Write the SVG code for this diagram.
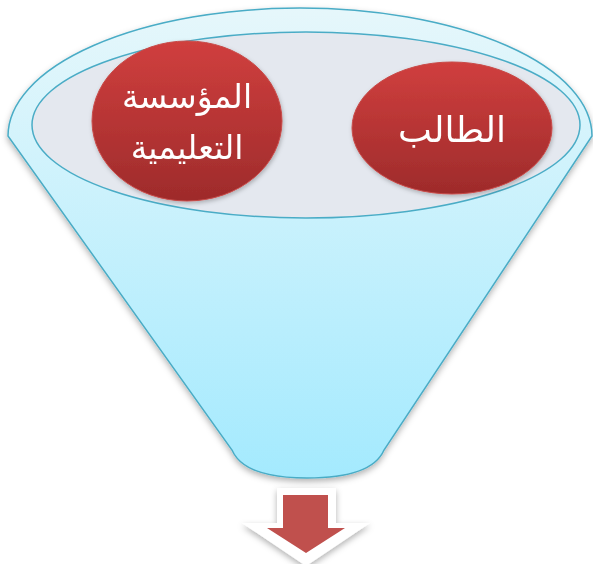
<svg xmlns="http://www.w3.org/2000/svg" width="593" height="564" viewBox="0 0 593 564">
<style>
.lbl{font-family:"DejaVu Sans","Noto Sans",sans-serif;fill:#ffffff;text-anchor:middle}
.ball{fill:url(#red);stroke:#c84a48;stroke-width:1}
</style>
<defs>
<linearGradient id="body" x1="0" y1="0" x2="0" y2="1">
<stop offset="0" stop-color="#e6f7fb"/>
<stop offset="1" stop-color="#a4eafe"/>
</linearGradient>
<linearGradient id="red" x1="0" y1="0" x2="0" y2="1">
<stop offset="0" stop-color="#d03f3e"/>
<stop offset="1" stop-color="#9e2b2b"/>
</linearGradient>
<filter id="sh" x="-20%" y="-20%" width="140%" height="140%">
<feDropShadow dx="0" dy="3" stdDeviation="3" flood-color="#000" flood-opacity="0.3"/>
</filter>
<filter id="sh2" x="-20%" y="-20%" width="140%" height="140%">
<feDropShadow dx="1" dy="2" stdDeviation="2" flood-color="#000" flood-opacity="0.25"/>
</filter>
</defs>
<g id="funnel">
<path d="M8,136 A292,128 0 0 1 592,136 L384,450 Q372,478 307,478 Q244,478 232,450 Z" fill="url(#body)" stroke="#4aacc6" stroke-width="1.5" filter="url(#sh)"/>
<ellipse cx="306" cy="125" rx="274" ry="93" fill="#e4e8ef" stroke="#4aacc6" stroke-width="1.5"/>
</g>
<g id="node-institution" filter="url(#sh2)">
<ellipse class="ball" cx="187" cy="121" rx="95" ry="80"/>
<text class="lbl" x="187" y="108" font-size="33">المؤسسة</text>
<text class="lbl" x="187" y="159" font-size="33">التعليمية</text>
</g>
<g id="node-student" filter="url(#sh2)">
<ellipse class="ball" cx="452" cy="128" rx="100" ry="66"/>
<text class="lbl" x="452" y="142" font-size="36">الطالب</text>
</g>
<g id="connectors">
<polygon points="277,488 336,488 336,523 370,523 306,566 242,523 277,523" fill="#ffffff" filter="url(#sh)"/>
<polygon points="283,495 328,495 328,528 345,528 306,553 267,528 283,528" fill="#c0504d"/>
</g>
</svg>
